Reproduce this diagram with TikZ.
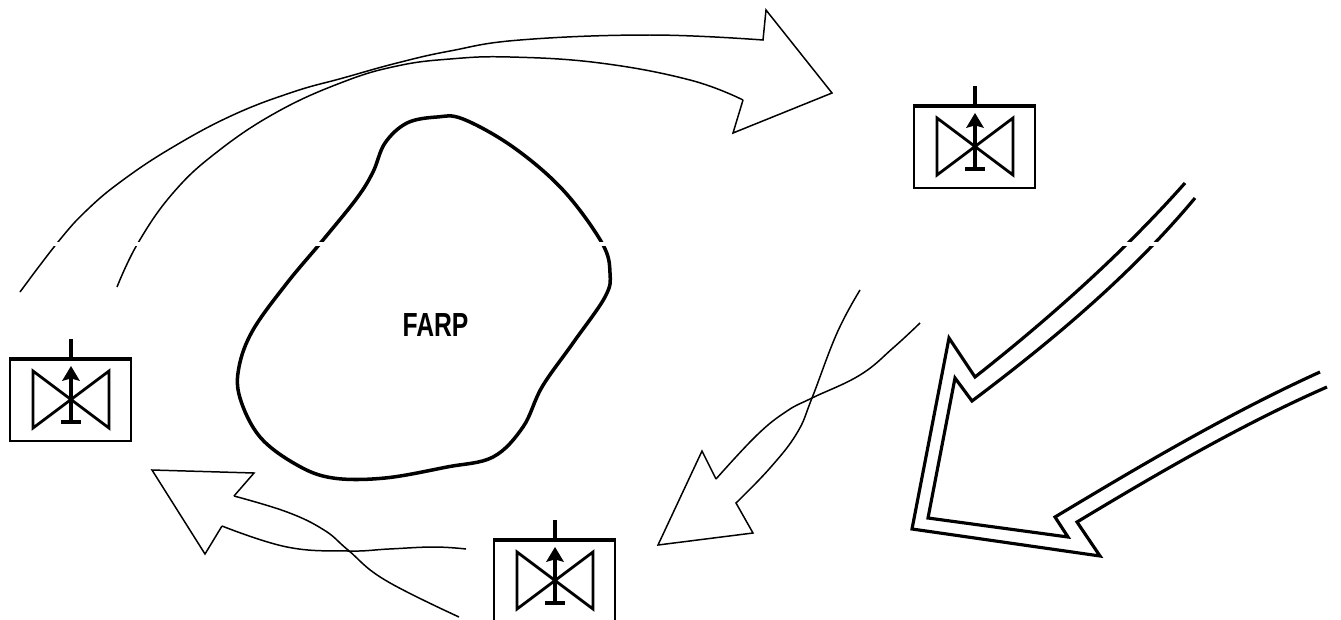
\documentclass[tikz,border=0pt]{standalone}
\usepackage{fontspec}
\usepackage{graphicx}
\setmainfont{Liberation Sans}
\tikzset{
  thinline/.style={line width=0.85pt,black,line join=miter},
  dblline/.style={line width=1.8pt,black,line join=miter,miter limit=10},
  blobline/.style={line width=2pt,black},
  unit/.pic={
    \draw[line width=1.5pt] (-61,-40) rectangle (60,42);
    \draw[line width=2.2pt] (-62,-40) -- (61,-40);
    \draw[line width=1.8pt] (0,-40) -- (0,-60);
    \draw[line width=1.6pt,line join=miter] (-38,-28) -- (38,29) -- (38,-28) -- (-38,29) -- cycle;
    \draw[line width=1.9pt] (0,23) -- (0,-20);
    \draw[line width=1.9pt] (-10,23) -- (10,23);
    \fill (0,-33) -- (9,-18) -- (2,-20) -- (-2,-20) -- (-9,-18) -- cycle;
  }
}
\begin{document}
\begin{tikzpicture}[x=0.02cm,y=-0.02cm]
\useasboundingbox (0,0) rectangle (1341,619);
\clip (0,0) rectangle (1341,619);
% top arrow
\draw[thinline] plot[smooth,tension=0.7] coordinates {(20,292) (58,242) (87,210) (123,180) (173,147) (233,115) (293,92) (343,78) (397,63) (450,51) (520,40) (650,35) (763,40)}
  -- (766,10) -- (832,93) -- (733,133) -- (743,100);
\draw[thinline] plot[smooth,tension=0.7] coordinates {(743,100) (690,80) (600,63) (510,57) (450,59) (397,66) (343,82) (277,112) (217,152) (173,193) (138,243) (117,287)};
% blob
\draw[blobline] plot[smooth cycle,tension=0.6] coordinates {(437,117) (407,123) (385,143) (373,172) (357,198) (323,240) (287,283) (253,330) (239,367) (240,398) (260,437) (297,465) (333,478) (385,478) (447,467) (493,457) (523,427) (542,387) (573,343) (605,297) (610,273) (602,243) (563,190) (513,147) (463,119)};
\node[inner sep=0pt,font=\bfseries\fontsize{19pt}{19pt}\selectfont] (farp) at (435.5,325.5) {\scalebox{0.74}[1]{FARP}};
% middle arrow
\draw[thinline] plot[smooth,tension=0.7] coordinates {(860,290) (837,333) (812,398) (797,433) (770,468) (736,503)}
  -- (753,533) -- (658,545) -- (702,451) -- (716,479);
\draw[thinline] plot[smooth,tension=0.7] coordinates {(716,479) (757,435) (787,411) (812,398) (860,375) (893,348) (920,323)};
% lower-left arrow
\draw[thinline] plot[smooth,tension=0.7] coordinates {(234,496) (287,512) (324,530) (348,550) (385,580) (459,617)};
\draw[thinline] (234,496) -- (254,473) -- (152,470) -- (205,554) -- (222,526);
\draw[thinline] plot[smooth,tension=0.7] coordinates {(222,526) (287,547) (348,551) (389,549) (434,547) (466,549)};
% double arrow
\draw[dblline] (1185,183) .. controls (1130,245) and (1060,310) .. (975,377)
  -- (949,338) -- (912,529) -- (1100,556) -- (1077,522)
  .. controls (1150,478) and (1240,425) .. (1327,387);
\draw[dblline] (1195,198) .. controls (1135,270) and (1060,335) .. (972,401)
  -- (955,378) -- (928,518) -- (1068,537) -- (1055,517)
  .. controls (1130,472) and (1225,415) .. (1320,372);
% strip
\fill[white] (0,241.5) rectangle (1341,245.5);
% units
\pic at (975,146) {unit};
\pic at (71,399) {unit};
\pic at (555,580) {unit};
\end{tikzpicture}
\end{document}
